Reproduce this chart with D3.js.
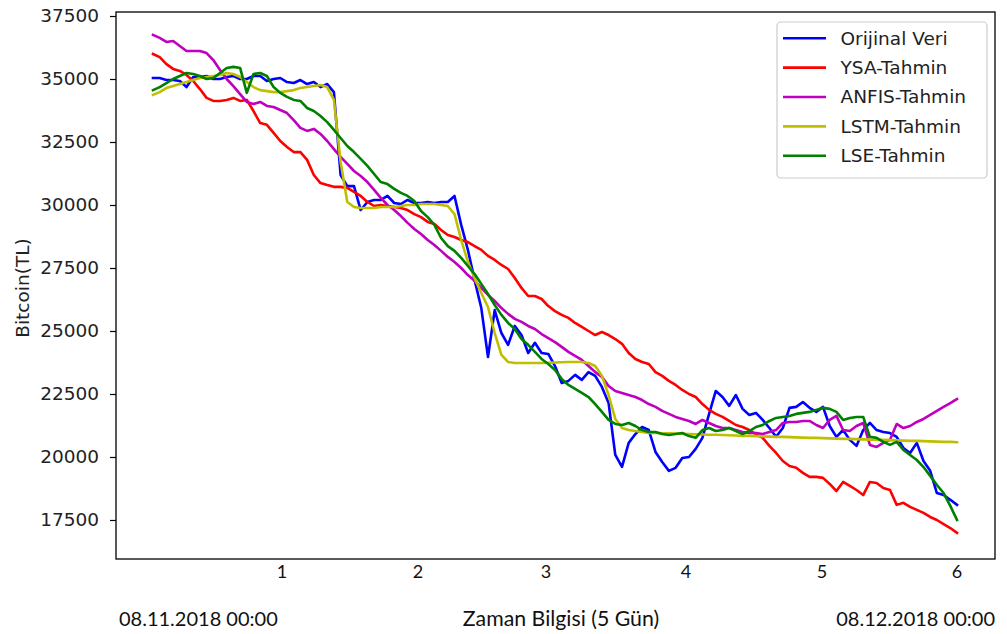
<!DOCTYPE html>
<html><head><meta charset="utf-8">
<script src="https://cdn.jsdelivr.net/npm/d3@7/dist/d3.min.js"></script>
<style>body{margin:0;background:#fff}</style>
</head><body>
<svg id="chart" width="1007" height="634"></svg>
<script>
const seriesNames = ["Orijinal Veri","YSA-Tahmin","ANFIS-Tahmin","LSTM-Tahmin","LSE-Tahmin"];
const seriesColors = ["#0000ff","#ff0000","#bf00bf","#bfbf00","#008000"];

const orijinalVeri = [
35040,35040,34960,34960,34920,34680,35080,35080,35120,35000,
35000,35080,35120,35000,35000,35120,35120,34920,35000,35040,
34880,34840,34960,34800,34880,34680,34800,34480,31190,30750,
30750,29800,30120,30200,30200,30360,30080,30040,30200,30080,
30080,30120,30080,30120,30120,30360,29210,28220,27020,25910,
23970,25830,24920,24450,25200,24840,24130,24530,24130,24090,
23610,22940,23020,23260,23060,23370,23220,22780,22140,20080,
19610,20560,20910,21190,21070,20200,19800,19450,19570,19960,
20000,20320,20760,21710,22620,22380,22030,22460,21910,21670,
21750,21470,21150,20800,21150,21950,21990,22180,21950,21790,
21990,21230,20800,21070,20680,20440,21070,21350,21070,20990,
20950,20800,20360,20160,20560,19840,19450,18570,18490,18300,
18100];

const ysaTahmin = [
35990,35870,35590,35400,35320,35160,34920,34600,34250,34130,
34130,34170,34250,34130,34170,33730,33250,33180,32860,32540,
32300,32100,32100,31790,31190,30870,30790,30720,30720,30680,
30520,30360,30120,29960,30000,29960,29920,29880,29800,29640,
29520,29330,29250,29010,28810,28730,28610,28530,28370,28220,
27980,27820,27620,27460,27100,26710,26390,26390,26270,25990,
25790,25640,25520,25320,25160,25000,24840,24960,24840,24680,
24490,24130,23890,23770,23690,23370,23220,23020,22860,22660,
22500,22380,22100,21870,21710,21590,21430,21270,21190,21070,
20910,20760,20440,20160,19840,19640,19570,19370,19210,19210,
19170,18930,18650,19010,18850,18690,18490,19010,18970,18770,
18690,18100,18180,18020,17900,17780,17620,17500,17340,17180,
16990];

const anfisTahmin = [
36750,36630,36470,36510,36310,36110,36110,36110,36030,35750,
35360,35000,34720,34400,34090,34010,34090,33930,33890,33770,
33650,33370,33060,32940,33020,32820,32540,32220,31910,31630,
31350,31150,30910,30600,30280,30000,29800,29560,29290,29050,
28850,28610,28410,28180,27940,27740,27500,27220,26990,26710,
26430,26190,25910,25680,25480,25360,25200,25080,24880,24720,
24560,24370,24170,24010,23850,23610,23370,23180,22820,22620,
22540,22460,22380,22260,22100,21990,21830,21710,21590,21510,
21430,21310,21470,21350,21230,21150,21150,21070,20990,20950,
20950,20910,20990,21070,21350,21390,21390,21430,21430,21270,
21150,21470,21630,21070,21030,21230,21350,20480,20400,20560,
20680,21310,21150,21230,21390,21510,21670,21830,21990,22140,
22300];

const lstmTahmin = [
34370,34480,34640,34720,34800,34880,34960,35040,35080,35120,
35160,35240,35200,35080,34880,34680,34560,34520,34480,34480,
34520,34560,34640,34680,34720,34760,34680,34170,31710,30120,
29920,29880,29880,29880,29920,29920,29920,29960,30000,30000,
30040,30040,30040,30000,29960,29640,28610,27740,27100,26510,
25950,24920,24050,23770,23730,23730,23730,23730,23730,23740,
23750,23760,23770,23770,23770,23730,23610,23220,22460,21510,
21150,21070,21030,20990,20950,20950,20940,20940,20930,20920,
20910,20900,20890,20880,20880,20870,20860,20850,20840,20840,
20830,20820,20810,20800,20800,20790,20780,20770,20760,20760,
20750,20740,20730,20720,20720,20710,20700,20690,20680,20680,
20670,20660,20650,20640,20640,20630,20620,20610,20600,20600,
20590];

const lseTahmin = [
34560,34680,34840,35000,35120,35240,35200,35120,35000,35040,
35240,35440,35480,35440,34450,35200,35240,35120,34680,34450,
34290,34170,34130,33850,33730,33530,33290,32980,32660,32340,
32100,31830,31550,31230,30910,30830,30640,30480,30360,30160,
29760,29520,29210,28690,28370,28180,27900,27580,27260,26870,
26470,26030,25640,25320,25080,24680,24450,24170,23890,23690,
23450,23100,22860,22700,22540,22380,22100,21790,21470,21310,
21270,21350,21230,21070,20990,20990,20910,20870,20910,20950,
20830,20760,21070,21150,21030,21070,21150,21030,20910,21030,
21190,21270,21430,21550,21590,21630,21710,21750,21790,21870,
21950,21910,21790,21470,21550,21590,21590,20800,20760,20600,
20480,20600,20280,20080,19880,19600,19250,18890,18570,18060,
17500];

const yTicks = [17500,20000,22500,25000,27500,30000,32500,35000,37500];
const xTickLabels = ["1","2","3","4","5","6"];
const xTickAt = [19.25,39.55,58.66,79.55,99.85,120];
const bottomLabels = ["08.11.2018 00:00","Zaman Bilgisi (5 Gün)","08.12.2018 00:00"];
const yAxisTitle = "Bitcoin(TL)";

const allSeries = [orijinalVeri, ysaTahmin, anfisTahmin, lstmTahmin, lseTahmin];

const svg = d3.select("#chart");
const L = 116, T = 12, R = 995, B = 559;
const dejavu = "'DejaVu Sans', sans-serif";
const humanist = "'Lato', 'Open Sans', sans-serif";

const x = d3.scaleLinear().domain([0, orijinalVeri.length - 1]).range([153, 957]);
const y = d3.scaleLinear().domain([15952, 37659]).range([B, T]);

svg.append("defs").append("clipPath").attr("id","clip")
  .append("rect").attr("x",L).attr("y",T).attr("width",R-L).attr("height",B-T);

const line = d3.line().x((d,i)=>x(i)).y(d=>y(d));
const g = svg.append("g").attr("clip-path","url(#clip)");
allSeries.forEach((s,k)=>{
  g.append("path").datum(s).attr("d",line)
    .attr("fill","none").attr("stroke",seriesColors[k])
    .attr("stroke-width",2.6).attr("stroke-linejoin","round").attr("stroke-linecap","square");
});

// frame
svg.append("rect").attr("x",L).attr("y",T).attr("width",R-L).attr("height",B-T)
  .attr("fill","none").attr("stroke","#000").attr("stroke-width",1.3);

// y axis
const yAxis = d3.axisLeft(y).tickValues(yTicks).tickSize(6).tickPadding(11).tickFormat(d3.format("d"));
const ya = svg.append("g").attr("transform",`translate(${L},0)`).call(yAxis);
ya.select(".domain").remove();
ya.selectAll(".tick line").attr("stroke","#000").attr("stroke-width",1.2);
ya.selectAll(".tick text").attr("font-family",dejavu).attr("font-size","18.5px").attr("fill","#222");

svg.append("text").attr("transform","translate(23,288) rotate(-90)")
  .attr("text-anchor","middle").attr("dy","0.35em")
  .attr("font-family",dejavu).attr("font-size","18.5px").attr("fill","#222").text(yAxisTitle);

// x tick labels
svg.selectAll(".xlab").data(xTickLabels).enter().append("text")
  .attr("x",(d,i)=>x(xTickAt[i])).attr("y",572).attr("dy","0.35em")
  .attr("text-anchor","middle").attr("font-family",humanist).attr("font-size","18px")
  .attr("fill","#111").text(d=>d);

// bottom labels
const anchors = ["start","middle","end"];
const bx = [119, 561, 995];
const bsize = ["20px","21.3px","20px"];
svg.selectAll(".blab").data(bottomLabels).enter().append("text")
  .attr("x",(d,i)=>bx[i]).attr("y",619).attr("dy","0.35em")
  .attr("text-anchor",(d,i)=>anchors[i]).attr("font-family",humanist).attr("font-size",(d,i)=>bsize[i])
  .attr("fill","#111").text(d=>d);

// legend
const lg = svg.append("g");
lg.append("rect").attr("x",777).attr("y",22).attr("width",210).attr("height",156).attr("rx",4)
  .attr("fill","#fff").attr("fill-opacity",0.8).attr("stroke","#ccc").attr("stroke-width",1.2);
seriesNames.forEach((n,k)=>{
  const yy = 38.3 + k*29.35;
  lg.append("line").attr("x1",783).attr("x2",826).attr("y1",yy).attr("y2",yy)
    .attr("stroke",seriesColors[k]).attr("stroke-width",2.6);
  lg.append("text").attr("x",840.5).attr("y",yy).attr("dy","0.35em")
    .attr("font-family",dejavu).attr("font-size","18.5px").attr("fill","#222").text(n);
});
</script>
</body></html>
